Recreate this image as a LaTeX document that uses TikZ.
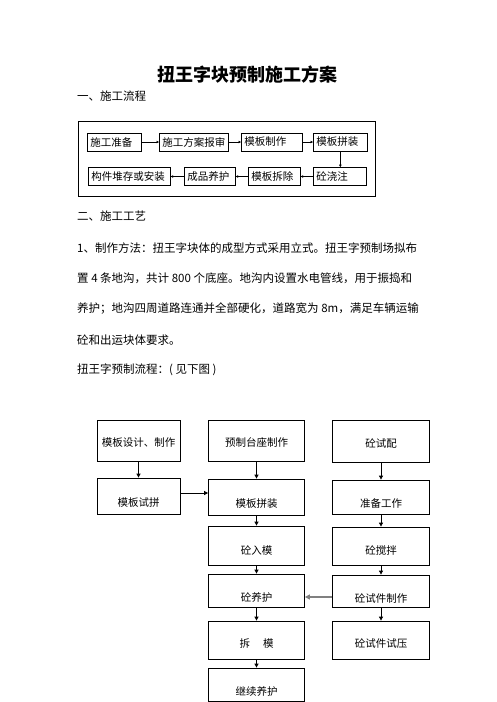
\documentclass[tikz,border=0pt]{standalone}
\usepackage{fontspec}
\setmainfont{Noto Sans CJK SC}
\usetikzlibrary{arrows.meta, positioning}

\begin{document}
\begin{tikzpicture}[
    x=1pt, y=-1pt,
    stage/.style={draw, line width=0.7pt, anchor=west, text width=#1, align=left,
                  inner xsep=3pt, inner ysep=0pt, minimum height=18pt,
                  font=\fontsize{10.5}{10.5}\selectfont},
    task/.style={draw, line width=0.8pt, inner sep=0pt, text height=#1, text depth=2pt,
                 font=\fontsize{10.5}{10.5}\selectfont},
    task/.default=22pt,
    colA/.style={minimum width=83pt},
    colB/.style={minimum width=96pt},
    colC/.style={minimum width=97pt},
    para/.style={anchor=west, inner sep=0pt, font=\fontsize{11.5}{11.5}\selectfont},
    link/.style={-{Triangle[length=4pt, width=4pt]}, line width=0.8pt},
    shortlink/.style={-{Triangle[length=2.5pt, width=2.5pt]}, line width=0.6pt}
]
    \useasboundingbox (0,0) rectangle (496,702);

    \node[font=\bfseries\fontsize{18}{18}\selectfont] (title) at (247,75) {扭王字块预制施工方案};
    \node[para] (head1) at (77,96) {一、施工流程};

    \draw[line width=0.8pt] (78,121) rectangle (375,196);
    \node[stage=48pt] (ready) at (87,142) {施工准备};
    \node[stage=63pt] (review) at (159,142) {施工方案报审};
    \node[stage=55pt] (make) at (241,142) {模板制作};
    \node[stage=48pt] (fit) at (313,142) {模板拼装};
    \node[stage=47pt] (pour) at (313,176.5) {砼浇注};
    \node[stage=46pt] (strip) at (248,176.5) {模板拆除};
    \node[stage=45pt] (keep) at (184,176.5) {成品养护};
    \node[stage=76pt] (store) at (88,176.5) {构件堆存或安装};

    \draw[shortlink] (ready) -- (review);
    \draw[shortlink] (review) -- (make);
    \draw[shortlink] (make) -- (fit);
    \draw[shortlink] (fit.south) -- (fit.south |- pour.north);
    \draw[shortlink] (pour) -- (strip);
    \draw[shortlink] (strip) -- (keep);
    \draw[shortlink] (keep) -- (store);

    \node[para] (head2) at (77,216) {二、施工工艺};
    \node[para] (text1) at (77,248) {1、制作方法：扭王字块体的成型方式采用立式。扭王字预制场拟布};
    \node[para] (text2) at (77,278) {置 4 条地沟，共计 800 个底座。地沟内设置水电管线，用于振捣和};
    \node[para] (text3) at (77,309) {养护；地沟四周道路连通并全部硬化，道路宽为 8m，满足车辆运输};
    \node[para] (text4) at (77,340) {砼和出运块体要求。};
    \node[para] (text5) at (77,370) {扭王字预制流程：( 见下图 )};

    \node[task=14pt, colA, minimum height=41pt] (design) at (138.5,440.5) {模板设计、制作};
    \node[task=14pt, colB, minimum height=41pt] (bed) at (256.5,440.5) {预制台座制作};
    \node[task=14pt, colC, minimum height=42pt] (trialmix) at (381,441) {砼试配};
    \node[task, colA, minimum height=36pt] (tryfit) at (138.5,496) {模板试拼};
    \node[task, colB, minimum height=36pt] (assemble) at (256.5,497) {模板拼装};
    \node[task, colC, minimum height=34pt] (prepare) at (381,497) {准备工作};
    \node[task=19pt, colB, minimum height=39pt] (cast) at (256.5,545.5) {砼入模};
    \node[task=19pt, colC, minimum height=38pt] (mixing) at (381,546) {砼搅拌};
    \node[task=24pt, colB, minimum height=33pt] (curing) at (256.5,590.5) {砼养护};
    \node[task=24pt, colC, minimum height=32pt] (sample) at (381,591) {砼试件制作};
    \node[task=16pt, colB, minimum height=38pt] (demould) at (256.5,640) {拆\hspace{13pt}模};
    \node[task=16pt, colC, minimum height=38pt] (test) at (381,640) {砼试件试压};
    \node[task=24pt, colB, minimum height=33pt] (recure) at (256.5,684.5) {继续养护};

    \draw[link] (design) -- (tryfit);
    \draw[link] ([yshift=3pt]tryfit.east) -- ([yshift=3pt]tryfit.east -| assemble.west);
    \draw[link] (bed) -- (assemble);
    \draw[link] (assemble) -- (cast);
    \draw[link] (cast) -- (curing);
    \draw[link] (curing) -- (demould);
    \draw[link] (demould) -- (recure);
    \draw[link] (trialmix) -- (prepare);
    \draw[link] (prepare) -- (mixing);
    \draw[link] (mixing) -- (sample);
    \draw[link] (sample) -- (test);
    \draw[-{Triangle[length=5pt, width=5pt]}, draw=gray, line width=1.6pt]
        ([yshift=-6pt]sample.west) -- ([yshift=-6pt]sample.west -| curing.east);
\end{tikzpicture}
\end{document}
